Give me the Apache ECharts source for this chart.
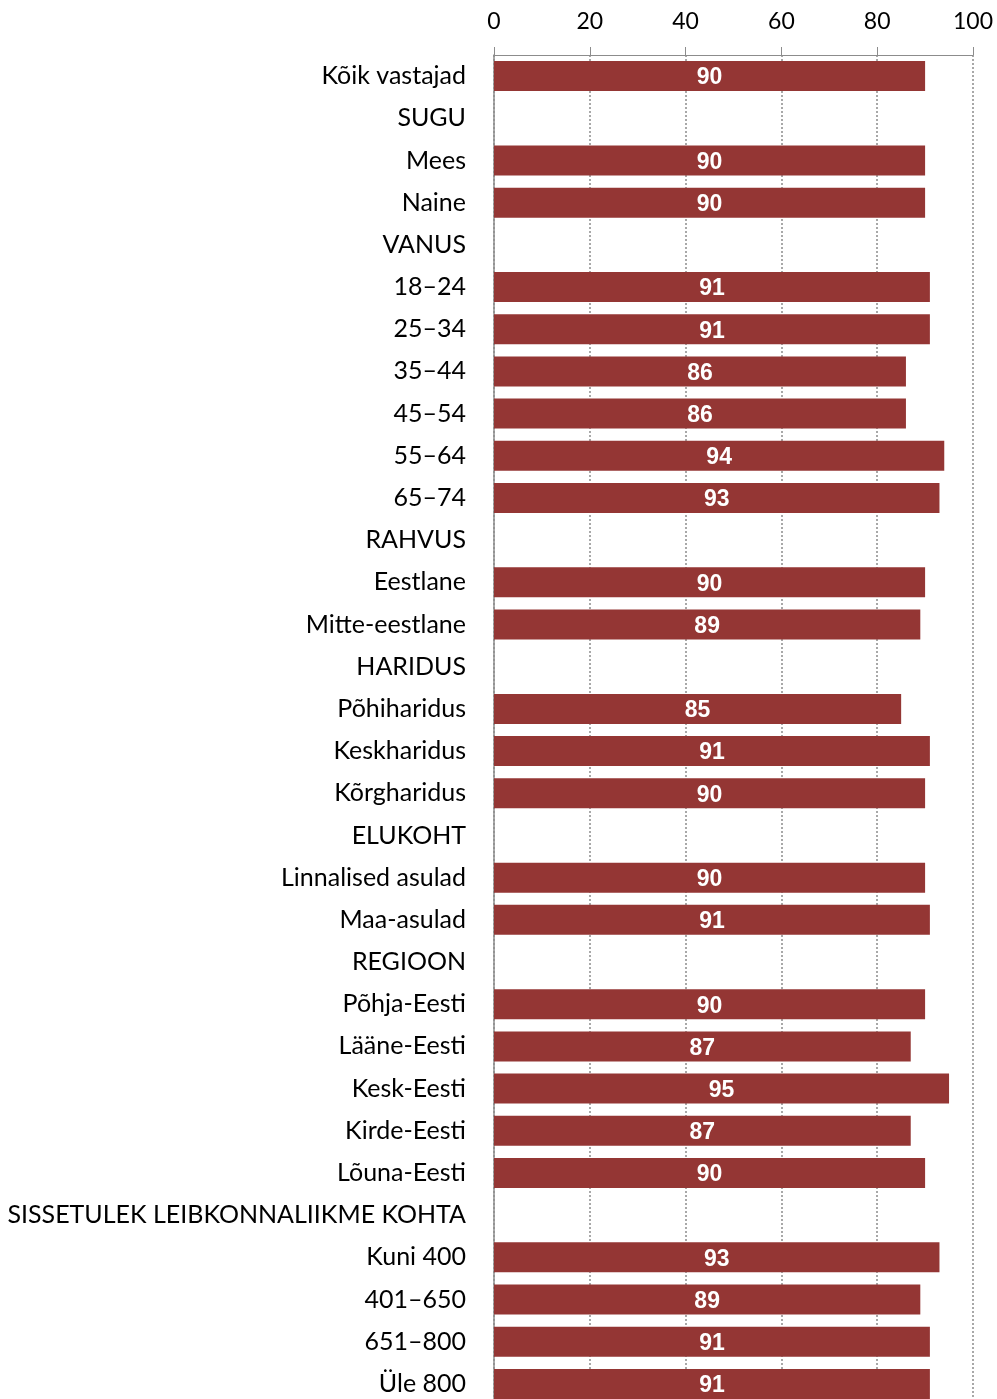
<!DOCTYPE html>
<html>
<head>
<meta charset="utf-8">
<script src="https://cdn.jsdelivr.net/npm/echarts@6/dist/echarts.min.js"></script>
<style>
html,body{margin:0;padding:0;background:#fff;overflow:hidden;}
#chart{width:997px;height:1412px;}
</style>
</head>
<body>
<div id="chart"></div>
<script>
const categories = ["Kõik vastajad","SUGU","Mees","Naine","VANUS","18–24","25–34","35–44","45–54","55–64","65–74","RAHVUS","Eestlane","Mitte-eestlane","HARIDUS","Põhiharidus","Keskharidus","Kõrgharidus","ELUKOHT","Linnalised asulad","Maa-asulad","REGIOON","Põhja-Eesti","Lääne-Eesti","Kesk-Eesti","Kirde-Eesti","Lõuna-Eesti","SISSETULEK LEIBKONNALIIKME KOHTA","Kuni 400","401–650","651–800","Üle 800"];
const values = [90,null,90,90,null,91,91,86,86,94,93,null,90,89,null,85,91,90,null,90,91,null,90,87,95,87,90,null,93,89,91,91];
const xTicks = [0,20,40,60,80,100];

const chart = echarts.init(document.getElementById('chart'));
chart.setOption({
  animation:false,
  grid:{left:494,right:24,top:55,height:1350,containLabel:false},
  xAxis:{
    type:'value',position:'top',min:xTicks[0],max:xTicks[xTicks.length-1],interval:20,
    axisLine:{show:true,lineStyle:{color:'#8c8c8c',width:1}},
    axisTick:{show:true,length:8,lineStyle:{color:'#8c8c8c'}},
    axisLabel:{color:'#000',fontSize:23,fontFamily:'Lato',margin:22},
    splitLine:{show:true,lineStyle:{color:'#8c8c8c',type:[2,2],width:1.5}}
  },
  yAxis:{
    type:'category',inverse:true,data:categories,
    axisLine:{show:true,lineStyle:{color:'#8c8c8c',width:1.5}},
    axisTick:{show:false},
    axisLabel:{color:'#000',fontSize:25,fontFamily:'Lato',margin:28}
  },
  series:[{
    type:'bar',data:values,barCategoryGap:'29%',
    itemStyle:{color:'#943634'},
    label:{show:true,position:'inside',color:'#fff',fontWeight:'bold',fontSize:23,fontFamily:'Liberation Sans',offset:[0,2]}
  }]
});
</script>
</body>
</html>
